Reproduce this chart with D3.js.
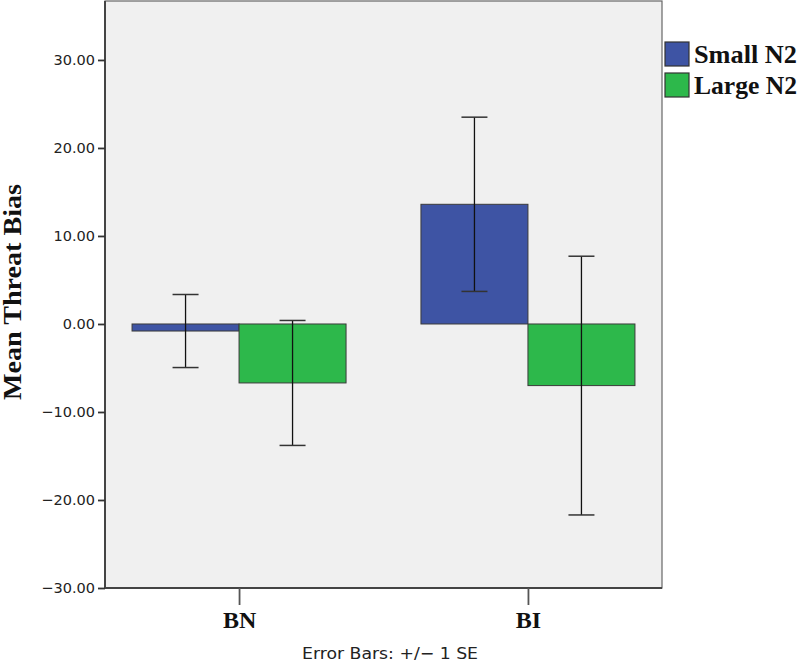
<!DOCTYPE html>
<html>
<head>
<meta charset="utf-8">
<script src="https://cdn.jsdelivr.net/npm/d3@7"></script>
<style>
  body { margin: 0; background: #fff; }
</style>
</head>
<body>
<div id="chart"></div>
<script>
// data
const groups = ["BN", "BI"]
const seriesNames = ["Small N2", "Large N2"]
const means = {
  "Small N2": [-0.8, 13.6],
  "Large N2": [-6.7, -7.0]
}
const stdErrs = {
  "Small N2": [4.15, 9.9],
  "Large N2": [7.1, 14.7]
}
const yTicks = [-30, -20, -10, 0, 10, 20, 30]
const colors = ["#3e54a4", "#2db84b"]

const width = 800, height = 668
const plot = { left: 105, right: 662, top: 1, bottom: 588 }

const svg = d3.select("#chart").append("svg")
    .attr("width", width)
    .attr("height", height)

// scales
const y = d3.scaleLinear()
    .domain([-30, 36.7])
    .range([plot.bottom, plot.top])

const x = d3.scalePoint()
    .domain(groups)
    .range([plot.left, plot.right])
    .padding(0.464)

const xInner = d3.scaleBand()
    .domain(seriesNames)
    .range([-107, 107])

// plot background
svg.append("rect")
    .attr("x", plot.left)
    .attr("y", plot.top)
    .attr("width", plot.right - plot.left)
    .attr("height", plot.bottom - plot.top)
    .attr("fill", "#f0f0f0")
    .attr("stroke", "#666")
    .attr("stroke-width", 1.2)

// bars
const groupG = svg.selectAll(".grp")
  .data(groups)
  .join("g")
    .attr("transform", d => `translate(${x(d)},0)`)

seriesNames.forEach((s, si) => {
  groupG.append("rect")
      .attr("x", xInner(s))
      .attr("width", xInner.bandwidth())
      .attr("y", (d, i) => y(Math.max(0, means[s][i])))
      .attr("height", (d, i) => Math.abs(y(means[s][i]) - y(0)))
      .attr("fill", colors[si])
      .attr("stroke", "#3a3a3a")
      .attr("stroke-width", 1)
})

// error bars
seriesNames.forEach(s => {
  const cx = xInner(s) + xInner.bandwidth() / 2
  const eb = groupG.append("g")
  eb.append("line")
      .attr("x1", cx).attr("x2", cx)
      .attr("y1", (d, i) => y(means[s][i] + stdErrs[s][i]))
      .attr("y2", (d, i) => y(means[s][i] - stdErrs[s][i]))
      .attr("stroke", "#111")
      .attr("stroke-width", 1.3)
  ;[1, -1].forEach(sign => {
    eb.append("line")
        .attr("x1", cx - 13).attr("x2", cx + 13)
        .attr("y1", (d, i) => y(means[s][i] + sign * stdErrs[s][i]))
        .attr("y2", (d, i) => y(means[s][i] + sign * stdErrs[s][i]))
        .attr("stroke", "#333")
        .attr("stroke-width", 1.5)
  })
})

// y axis
const yAxis = svg.append("g")
    .attr("transform", `translate(${plot.left},0)`)
    .call(d3.axisLeft(y).tickValues(yTicks).tickSize(7).tickPadding(3)
      .tickFormat(d => d3.format(".2f")(d).replace("-", "\u2212")))
yAxis.select(".domain").attr("stroke", "#444").attr("stroke-width", 2)
  .attr("d", `M0,${plot.top}V${plot.bottom}`)
yAxis.selectAll(".tick line").attr("stroke", "#333").attr("stroke-width", 1.8)
yAxis.selectAll(".tick text")
    .attr("font-family", "DejaVu Sans, sans-serif")
    .attr("font-size", 14.5)
    .attr("fill", "#222")

// x axis
const xAxis = svg.append("g")
    .attr("transform", `translate(0,${plot.bottom})`)
    .call(d3.axisBottom(x).tickSize(17).tickPadding(6))
xAxis.select(".domain").attr("stroke", "#444").attr("stroke-width", 2)
  .attr("d", `M${plot.left},0H${plot.right}`)
xAxis.selectAll(".tick line").attr("stroke", "#555").attr("stroke-width", 1.8)
xAxis.selectAll(".tick text")
    .attr("font-family", "Liberation Serif, serif")
    .attr("font-weight", "bold")
    .attr("font-size", 24)
    .attr("fill", "#111")

// y label
svg.append("text")
    .attr("transform", `translate(21,292) rotate(-90)`)
    .attr("text-anchor", "middle")
    .attr("font-family", "Liberation Serif, serif")
    .attr("font-weight", "bold")
    .attr("font-size", 25)
    .attr("textLength", 216)
    .attr("lengthAdjust", "spacingAndGlyphs")
    .attr("fill", "#111")
    .text("Mean Threat Bias")

// footnote
svg.append("text")
    .attr("x", 390)
    .attr("y", 659)
    .attr("text-anchor", "middle")
    .attr("font-family", "DejaVu Sans, sans-serif")
    .attr("font-size", 16)
    .attr("textLength", 176)
    .attr("lengthAdjust", "spacingAndGlyphs")
    .attr("fill", "#222")
    .text("Error Bars: +/\u2212 1 SE")

// legend
const legend = svg.append("g")
    .attr("transform", "translate(665,42)")
const li = legend.selectAll("g")
  .data(seriesNames)
  .join("g")
    .attr("transform", (d, i) => `translate(0,${i * 31})`)
li.append("rect")
    .attr("width", 24)
    .attr("height", 24)
    .attr("fill", (d, i) => colors[i])
    .attr("stroke", "#333")
    .attr("stroke-width", 1.2)
li.append("text")
    .attr("x", 29)
    .attr("y", 21)
    .attr("font-family", "Liberation Serif, serif")
    .attr("font-weight", "bold")
    .attr("font-size", 25)
    .attr("textLength", 103)
    .attr("lengthAdjust", "spacingAndGlyphs")
    .attr("fill", "#111")
    .text(d => d)
</script>
</body>
</html>
